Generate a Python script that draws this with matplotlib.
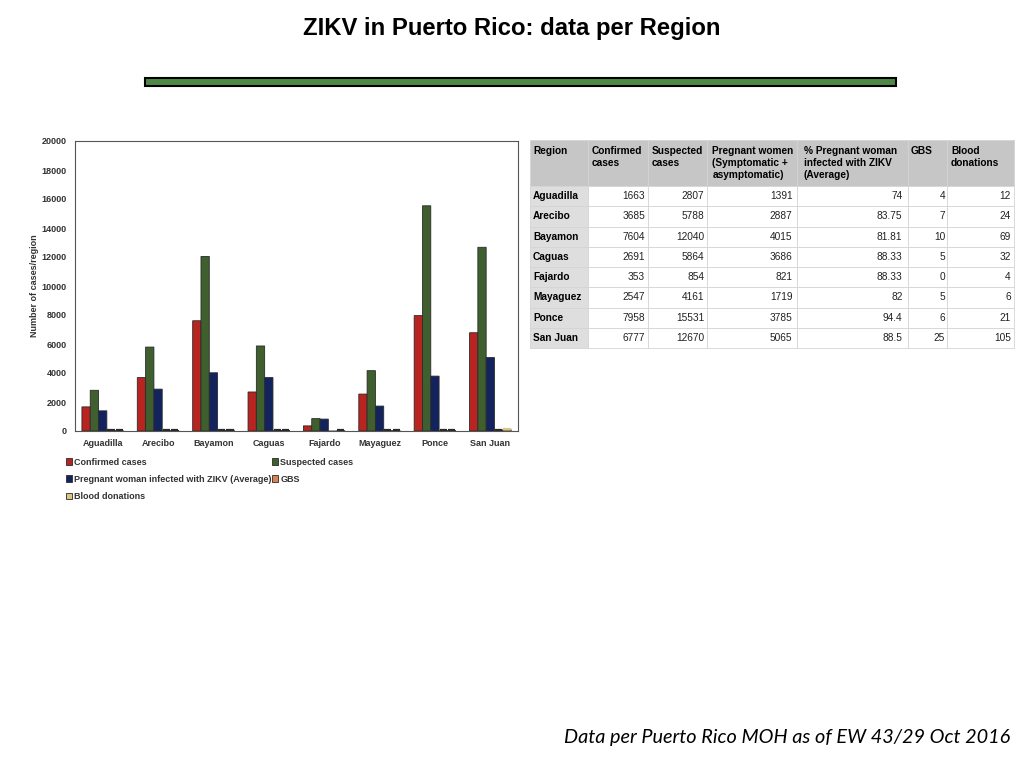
import numpy as np
import matplotlib
matplotlib.use("Agg")
import matplotlib.pyplot as plt
from matplotlib.patches import Rectangle

plt.rcParams['font.family'] = ['Liberation Sans', 'DejaVu Sans']

# data
regions = ['Aguadilla', 'Arecibo', 'Bayamon', 'Caguas', 'Fajardo', 'Mayaguez', 'Ponce', 'San Juan']
confirmed = [1663, 3685, 7604, 2691, 353, 2547, 7958, 6777]
suspected = [2807, 5788, 12040, 5864, 854, 4161, 15531, 12670]
pregnant = [1391, 2887, 4015, 3686, 821, 1719, 3785, 5065]
pct_pregnant = ['74', '83.75', '81.81', '88.33', '88.33', '82', '94.4', '88.5']
gbs = [4, 7, 10, 5, 0, 5, 6, 25]
blood = [12, 24, 69, 32, 4, 6, 21, 105]

series_names = ['Confirmed cases', 'Suspected cases',
                'Pregnant woman infected with ZIKV (Average)', 'GBS', 'Blood donations']
series_colors = ['#b8241f', '#3f5f2f', '#13235e', '#d9844e', '#dcc57e']

table_header = ['Region\n\n', 'Confirmed\ncases\n', 'Suspected\ncases\n',
                'Pregnant women\n(Symptomatic +\nasymptomatic)',
                '% Pregnant woman\ninfected with ZIKV\n(Average)', 'GBS\n\n', 'Blood\ndonations\n']

W, H = 1024, 768
fig = plt.figure(figsize=(10.24, 7.68), dpi=100)

fig.text(0.5, 1 - 29 / H, 'ZIKV in Puerto Rico: data per Region', ha='center', va='center',
         fontsize=17.2, fontweight='bold')
fig.patches.append(Rectangle((145 / W, 1 - 86 / H), 751 / W, 8 / H, transform=fig.transFigure,
                             facecolor='#4e8a45', edgecolor='black', linewidth=1.5))

# bar chart
ax = fig.add_axes([75 / W, 1 - 431 / H, 443 / W, 290 / H])
x = np.arange(len(regions))
bw = 0.15
all_series = [confirmed, suspected, pregnant, gbs, blood]
handles = []
for k, (vals, name, col) in enumerate(zip(all_series, series_names, series_colors)):
    b = ax.bar(x + (k - 2) * bw, vals, bw, color=col, edgecolor='#2a2a2a', linewidth=0.6,
               label=name, snap=False)
    handles.append(b)
    # the tiny counts only show up as a dark stub on the baseline
    for xi, v in zip(x, vals):
        if 0 < v < 150:
            ax.plot([xi + (k - 2) * bw - bw / 2 + 0.01, xi + (k - 2) * bw + bw / 2 - 0.01],
                    [max(v, 60)] * 2, color='#2a2a2a' if v < 100 else col, lw=1.6,
                    solid_capstyle='butt', zorder=3)

ax.set_xlim(-0.5, len(regions) - 0.5)
ax.set_ylim(0, 20000)
ax.set_yticks(range(0, 20001, 2000))
ax.set_xticks(x)
ax.set_xticklabels(regions)
ax.tick_params(axis='both', length=0, labelsize=6.5, labelcolor='#333333', pad=6)
for lab in ax.get_xticklabels() + ax.get_yticklabels():
    lab.set_fontweight('bold')
ax.set_ylabel('Number of cases/region', fontsize=6.5, fontweight='bold', color='#333333', labelpad=2)
for s in ax.spines.values():
    s.set_color('#555555')
    s.set_linewidth(0.8)

# legend in row order: confirmed, suspected / pregnant, gbs / blood
order = [0, 2, 4, 1, 3]
fig.legend([handles[i] for i in order], [series_names[i] for i in order],
           loc='upper left', bbox_to_anchor=(62 / W, 1 - 454 / H), ncol=2, frameon=False,
           prop={'size': 6.5, 'weight': 'bold'}, handlelength=0.7, handleheight=0.7,
           handletextpad=0.2, columnspacing=0.1, labelspacing=0.9, borderaxespad=0)
for t in fig.legends[0].get_texts():
    t.set_color('#333333')

# table
tax = fig.add_axes([530 / W, 1 - 348 / H, 484 / W, 208 / H])
tax.axis('off')
cell_text = []
for i, r in enumerate(regions):
    cell_text.append([r, confirmed[i], suspected[i], pregnant[i], pct_pregnant[i], gbs[i], blood[i]])
col_px = [58, 60, 59, 90, 111, 39, 67]
col_w = [c / sum(col_px) for c in col_px]
tbl = tax.table(cellText=[[str(v) for v in row] for row in cell_text], colLabels=table_header,
                colWidths=col_w, bbox=[0, 0, 1, 1], cellLoc='right')
tbl.auto_set_font_size(False)
tbl.set_fontsize(7.3)
for (r, c), cell in tbl.get_celld().items():
    cell.set_edgecolor('#d4d4d4')
    cell.set_linewidth(0.6)
    if r == 0:
        cell.set_height(46)
        cell.set_facecolor('#c6c6c6')
        cell.get_text().set_ha('left')
        cell.get_text().set_fontweight('bold')
        cell.get_text().set_linespacing(1.25)
        cell.PAD = 0.06
    else:
        cell.set_height(20.25)
        if c == 0:
            cell.set_facecolor('#dedede')
            cell.get_text().set_ha('left')
            cell.get_text().set_fontweight('bold')
        else:
            cell.set_facecolor('white')
            cell.get_text().set_color('#222222')
        cell.PAD = 0.05

fig.text(1010 / W, 1 - 737 / H, 'Data per Puerto Rico MOH as of EW 43/29 Oct 2016', ha='right',
         va='center', fontsize=14.3, style='italic', family=['Lato', 'DejaVu Sans'])

fig.savefig('out.png', dpi=100)
